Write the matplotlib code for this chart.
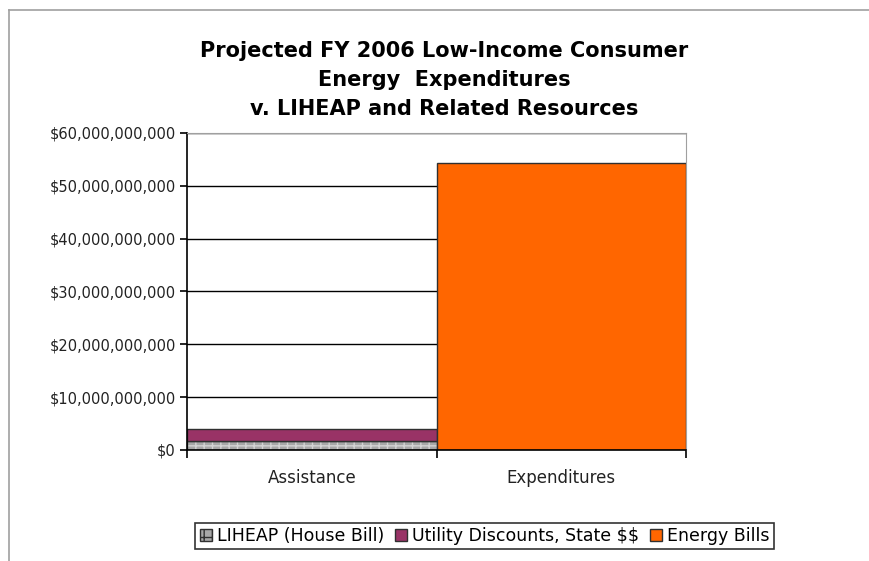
import matplotlib
matplotlib.use('Agg')
import matplotlib.pyplot as plt
from matplotlib.ticker import FuncFormatter
from matplotlib.lines import Line2D
from matplotlib.patches import Patch

categories = ['Assistance', 'Expenditures']
liheap = [1.6e9, 0]
utility = [2.4e9, 0]
energy = [0, 54.3e9]
series_names = ['LIHEAP (House Bill)', 'Utility Discounts, State $$', 'Energy Bills']
y_ticks = [0, 10e9, 20e9, 30e9, 40e9, 50e9, 60e9]

plt.rcParams['font.family'] = ['DejaVu Sans']
plt.rcParams['text.parse_math'] = False

fig = plt.figure(figsize=(8.7, 5.61), dpi=100)
ax = fig.add_axes([0.215, 0.198, 0.5735, 0.565])

# outer chart border (top and left edges visible)
fig.add_artist(Line2D([9/870, 1], [1 - 10/561, 1 - 10/561], color='#a0a0a0', lw=1.2))
fig.add_artist(Line2D([9/870, 9/870], [0, 1 - 10/561], color='#a0a0a0', lw=1.2))

x = [0, 1]
ax.set_axisbelow(True)
ax.yaxis.grid(True, color='black', lw=1)

# hatched grey bottom segment
ax.bar(x, liheap, width=1.0, color='#a8a8a8', edgecolor='#d4d4d4', hatch='++', lw=0)
ax.bar(x, liheap, width=1.0, fill=False, edgecolor='#303030', lw=1.0)
ax.bar(x, utility, width=1.0, bottom=liheap, color='#993366', edgecolor='#303030', lw=1.0)
ax.bar(x, energy, width=1.0, color='#ff6600', edgecolor='#303030', lw=1.0)

ax.set_xlim(-0.5, 1.5)
ax.set_ylim(0, 60e9)
ax.set_yticks(y_ticks)
ax.yaxis.set_major_formatter(FuncFormatter(lambda v, p: '${:,.0f}'.format(v)))
ax.set_xticks(x)
ax.set_xticklabels(categories)
ax.set_xticks([-0.5, 0.5, 1.5], minor=True)
ax.tick_params(axis='x', which='major', length=0, pad=14, labelsize=12, labelcolor='#222222')
ax.tick_params(axis='x', which='minor', length=6, width=1.2, color='black', direction='out')
ax.tick_params(axis='y', length=5, width=1.2, labelsize=10.5, pad=3, labelcolor='#222222')

for s in ['top', 'right']:
    ax.spines[s].set_color('#a0a0a0')
for s in ['left', 'bottom']:
    ax.spines[s].set_color('black')
    ax.spines[s].set_linewidth(1.2)

fig.suptitle('Projected FY 2006 Low-Income Consumer\nEnergy  Expenditures\nv. LIHEAP and Related Resources',
             x=0.511, y=0.927, fontsize=15, fontweight='bold', linespacing=1.55)

handles = [Patch(facecolor='#a8a8a8', edgecolor='#303030', hatch='++'),
           Patch(facecolor='#993366', edgecolor='#303030'),
           Patch(facecolor='#ff6600', edgecolor='#303030')]
leg = fig.legend(handles, series_names, loc='center', bbox_to_anchor=(0.557, 0.0446),
                 ncol=3, fontsize=12.5, frameon=True, fancybox=False, edgecolor='black',
                 handlelength=0.7, handleheight=0.7, handletextpad=0.3, columnspacing=0.6,
                 borderpad=0.25)
leg.get_frame().set_linewidth(1.2)

fig.savefig('out.png', dpi=100)
